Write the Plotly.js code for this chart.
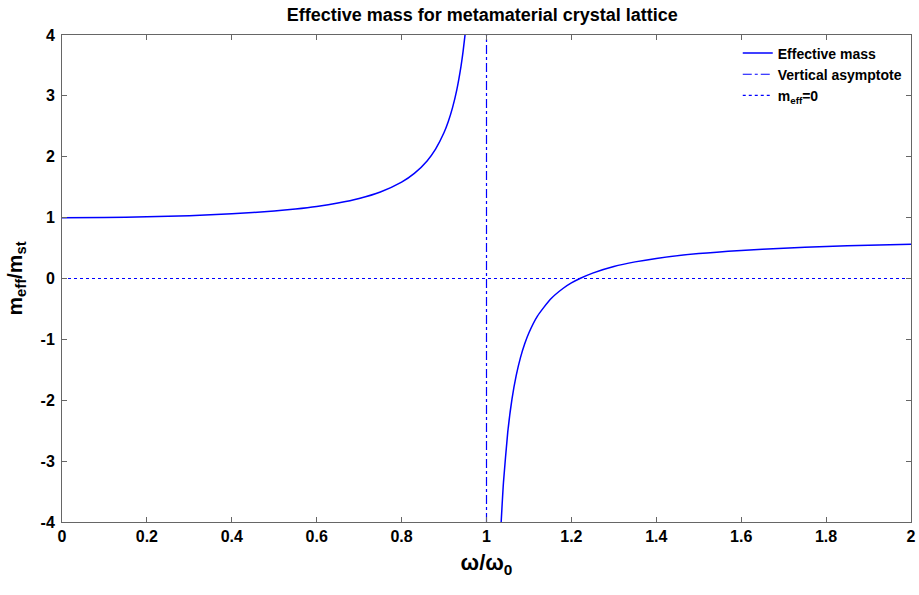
<!DOCTYPE html>
<html>
<head>
<meta charset="utf-8">
<script src="https://cdn.plot.ly/plotly-3.0.1.min.js"></script>
<style>html,body{margin:0;padding:0;background:#fff;}#chart{width:919px;height:595px;}</style>
</head>
<body>
<div id="chart"></div>
<script>
// Effective mass curve (null separates the two branches)
const omega = [0, 0.1, 0.2, 0.3, 0.4, 0.5, 0.55, 0.6, 0.65, 0.7, 0.75, 0.8, 0.83, 0.86, 0.88, 0.9, 0.91, 0.92, 0.93, 0.94, 0.945, 0.95,
  null,
  1.034, 1.04, 1.05, 1.06, 1.07, 1.08, 1.09, 1.1, 1.12, 1.15, 1.18, 1.2, 1.22, 1.25, 1.3, 1.35, 1.4, 1.5, 1.6, 1.7, 1.8, 1.9, 2.0];
const mEff = [1.000, 1.003, 1.014, 1.032, 1.062, 1.109, 1.142, 1.184, 1.240, 1.315, 1.422, 1.583, 1.726, 1.932, 2.126, 2.398, 2.580, 2.807, 3.100, 3.490, 3.738, 4.036,
  null,
  -4.071, -3.348, -2.528, -1.982, -1.592, -1.299, -1.072, -0.890, -0.617, -0.345, -0.164, -0.073, 0.000, 0.089, 0.197, 0.273, 0.330, 0.410, 0.462, 0.498, 0.526, 0.546, 0.563];
const asymX = [1, 1];
const asymY = [-4, 4];
const zeroX = [0, 2];
const zeroY = [0, 0];
const xTicks = [0, 0.2, 0.4, 0.6, 0.8, 1, 1.2, 1.4, 1.6, 1.8, 2];
const xTickText = ['0', '0.2', '0.4', '0.6', '0.8', '1', '1.2', '1.4', '1.6', '1.8', '2'];
const yTicks = [-4, -3, -2, -1, 0, 1, 2, 3, 4];
const yTickText = ['-4', '-3', '-2', '-1', '0', '1', '2', '3', '4'];

const FONT = 'Liberation Sans, Arial, Helvetica, sans-serif';
const BLUE = '#0000ff';

const traces = [
  {x: omega, y: mEff, mode: 'lines', name: '<b>Effective mass</b>', line: {color: BLUE, width: 1.5, shape: 'spline', smoothing: 0.5}, connectgaps: false},
  {x: asymX, y: asymY, mode: 'lines', name: '<b>Vertical asymptote</b>', line: {color: BLUE, width: 1.2, dash: 'dashdot'}},
  {x: zeroX, y: zeroY, mode: 'lines', name: '<b>m<sub>eff</sub>=0</b>', line: {color: BLUE, width: 1.2, dash: 'dot'}}
];

const axisCommon = {
  showgrid: false, zeroline: false, showline: true, linecolor: '#666', linewidth: 1,
  mirror: 'ticks', ticks: 'inside', ticklen: 5, tickcolor: '#666', tickwidth: 1,
  tickfont: {family: FONT, size: 16, color: '#000', weight: 'bold'}
};

const layout = {
  width: 919, height: 595,
  margin: {l: 62, r: 8, t: 35, b: 73},
  paper_bgcolor: '#fff', plot_bgcolor: '#fff',
  title: {text: '<b>Effective mass for metamaterial crystal lattice</b>', font: {family: FONT, size: 18, color: '#000'}, xref: 'paper', x: 0.495, xanchor: 'center', y: 0.975, yanchor: 'middle'},
  xaxis: Object.assign({}, axisCommon, {
    range: [0, 2], tickvals: xTicks, ticktext: xTickText,
    title: {text: '<b>ω/ω<sub>0</sub></b>', font: {family: FONT, size: 22, color: '#000'}, standoff: 10}
  }),
  yaxis: Object.assign({}, axisCommon, {
    range: [-4, 4], tickvals: yTicks, ticktext: yTickText, ticklabelstandoff: 3,
    title: {text: '<b>m<sub>eff</sub>/m<sub>st</sub></b>', font: {family: FONT, size: 21, color: '#000'}, standoff: 12}
  }),
  showlegend: true,
  legend: {x: 0.995, y: 0.995, xanchor: 'right', yanchor: 'top', bgcolor: 'rgba(255,255,255,0)', borderwidth: 0,
    font: {family: FONT, size: 14, color: '#000'}, tracegroupgap: 0, itemwidth: 30}
};

Plotly.newPlot('chart', traces, layout, {displayModeBar: false, staticPlot: true});
</script>
</body>
</html>
